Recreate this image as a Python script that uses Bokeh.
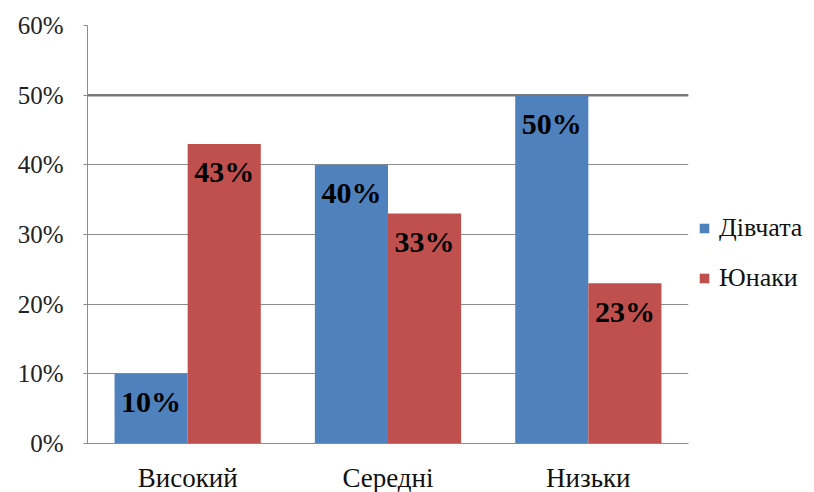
from bokeh.plotting import figure
from bokeh.models import ColumnDataSource, FactorRange, Legend, LegendItem, LabelSet, FixedTicker, CustomJSTickFormatter, Span
from bokeh.transform import dodge
from bokeh.embed import file_html
from bokeh.resources import INLINE

categories = ["Високий", "Середні", "Низьки"]
girls = [10, 40, 50]
boys = [43, 33, 23]
series_names = ["Дівчата", "Юнаки"]
y_ticks = [0, 10, 20, 30, 40, 50, 60]

FONT = "'Liberation Serif', 'DejaVu Serif', serif"
BLUE = "#4F81BD"
RED = "#C0504D"
GRID = "#8C8C8C"

src = ColumnDataSource(dict(
    cat=categories,
    girls=girls,
    boys=boys,
    girls_lbl=[f"{v}%" for v in girls],
    boys_lbl=[f"{v}%" for v in boys],
))

p = figure(x_range=FactorRange(*categories), y_range=(0, 60),
           frame_width=601, frame_height=418,
           output_backend="svg", toolbar_location=None,
           min_border_left=87, min_border_top=25, min_border_bottom=48, min_border_right=0)

bw = 0.365
r1 = p.vbar(x=dodge("cat", -bw / 2, range=p.x_range), top="girls", width=bw, source=src,
            fill_color=BLUE, line_color=None)
r2 = p.vbar(x=dodge("cat", bw / 2, range=p.x_range), top="boys", width=bw, source=src,
            fill_color=RED, line_color=None)

for col, lbl, off in (("girls", "girls_lbl", -bw / 2), ("boys", "boys_lbl", bw / 2)):
    ls = LabelSet(x=dodge("cat", off, range=p.x_range), y=col, text=lbl, source=src,
                  y_offset=-28, text_align="center", text_baseline="middle",
                  text_font=FONT, text_font_size="30px", text_font_style="bold",
                  text_color="black")
    p.add_layout(ls)

p.yaxis.ticker = FixedTicker(ticks=y_ticks)
p.yaxis.formatter = CustomJSTickFormatter(code="return tick + '%';")
p.yaxis.major_label_text_font = FONT
p.yaxis.major_label_text_font_size = "25px"
p.yaxis.major_label_text_color = "#222222"
p.yaxis.axis_line_color = GRID
p.yaxis.major_tick_line_color = GRID
p.yaxis.major_tick_out = 4
p.yaxis.major_tick_in = 0
p.yaxis.minor_tick_line_color = None
p.yaxis.major_label_standoff = 20

p.xaxis.major_label_text_font = FONT
p.xaxis.major_label_text_font_size = "27px"
p.xaxis.major_label_text_color = "#111111"
p.xaxis.axis_line_color = GRID
p.xaxis.major_tick_line_color = None
p.xaxis.minor_tick_line_color = None
p.xaxis.major_label_standoff = 13

p.xgrid.grid_line_color = None
p.ygrid.grid_line_color = GRID
p.ygrid.ticker = FixedTicker(ticks=y_ticks)
p.outline_line_color = None
p.add_layout(Span(location=y_ticks[5], dimension="width", line_color="#7A7A7A", line_width=2.5, level="underlay"))

legend = Legend(items=[LegendItem(label=series_names[0], renderers=[r1]),
                       LegendItem(label=series_names[1], renderers=[r2])],
                location=(10, 150), orientation="vertical",
                label_text_font=FONT, label_text_font_size="26px", label_height=27,
                label_text_color="#111111",
                glyph_width=12, glyph_height=12, label_standoff=9,
                spacing=20, padding=0, margin=0, border_line_color=None,
                background_fill_alpha=0)
p.add_layout(legend, "right")

open("out.html", "w").write(file_html(p, INLINE))
